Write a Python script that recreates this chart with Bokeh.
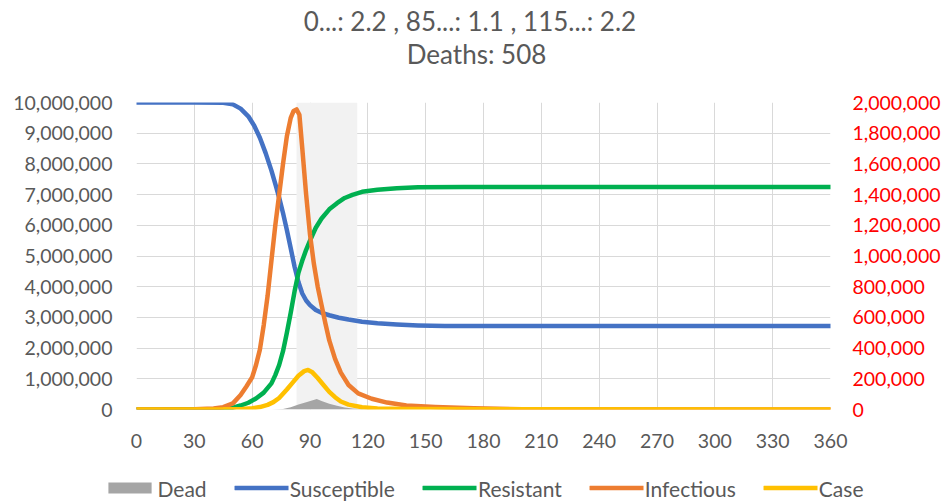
from bokeh.plotting import figure
from bokeh.layouts import column
from bokeh.core.properties import value
from bokeh.models import (Range1d, LinearAxis, FixedTicker, NumeralTickFormatter,
                          BoxAnnotation, Legend, LegendItem)
from bokeh.embed import file_html
from bokeh.resources import INLINE

# ---------------- data ----------------
title_line1 = "0...: 2.2 ,  85...: 1.1 ,  115...: 2.2"
title_line2 = "Deaths: 508"

x_ticks = [0, 30, 60, 90, 120, 150, 180, 210, 240, 270, 300, 330, 360]
left_ticks = [0, 1e6, 2e6, 3e6, 4e6, 5e6, 6e6, 7e6, 8e6, 9e6, 10e6]
right_ticks = [0, 2e5, 4e5, 6e5, 8e5, 1e6, 1.2e6, 1.4e6, 1.6e6, 1.8e6, 2e6]

shade_start, shade_end = 83, 114.5

series_names = ["Dead", "Susceptible", "Resistant", "Infectious", "Case"]

# Susceptible (left axis, millions)
days_s = [0, 30, 45, 50, 54, 58, 61, 64, 67, 70, 72, 74, 76, 78, 80, 82, 84, 86, 88, 90,
          93, 96, 100, 105, 110, 117, 125, 135, 146, 160, 190, 250, 360]
susceptible = [10.0, 10.0, 9.99, 9.94, 9.80, 9.55, 9.25, 8.85, 8.35, 7.78, 7.35, 6.90, 6.40,
               5.85, 5.25, 4.65, 4.15, 3.78, 3.55, 3.40, 3.24, 3.15, 3.07, 2.99, 2.93, 2.86,
               2.81, 2.77, 2.74, 2.72, 2.72, 2.72, 2.72]

# Resistant (left axis, millions)
days_r = [0, 45, 50, 54, 58, 62, 66, 70, 72, 74, 76, 78, 80, 82, 84, 86, 88, 90, 93, 96,
          100, 104, 108, 112, 117, 125, 135, 146, 170, 250, 360]
resistant = [0, 0.02, 0.06, 0.13, 0.22, 0.36, 0.55, 0.85, 1.12, 1.45, 1.9, 2.5, 3.15, 3.85,
             4.45, 4.85, 5.2, 5.5, 5.92, 6.22, 6.52, 6.72, 6.89, 6.99, 7.09, 7.16, 7.21,
             7.24, 7.25, 7.25, 7.25]

# Infectious (right axis, millions)
days_i = [0, 30, 40, 45, 50, 54, 57, 60, 62, 64, 66, 68, 70, 72, 74, 76, 78, 80, 81.5, 83,
          84.5, 86, 88, 90, 92, 94, 96, 98, 100, 103, 106, 110, 115, 122, 130, 140, 155,
          175, 200, 360]
infectious = [0, 0.001, 0.006, 0.015, 0.040, 0.095, 0.15, 0.21, 0.29, 0.39, 0.55, 0.74,
              0.97, 1.20, 1.40, 1.60, 1.78, 1.90, 1.945, 1.955, 1.92, 1.70, 1.40, 1.14,
              0.95, 0.80, 0.68, 0.56, 0.45, 0.33, 0.24, 0.16, 0.105, 0.07, 0.045, 0.026,
              0.016, 0.008, 0.002, 0]

# Case (right axis, millions)
days_c = [0, 45, 55, 60, 64, 68, 71, 74, 78, 81, 84, 87, 89, 91, 94, 97, 100, 103, 106,
          110, 117, 125, 140, 360]
case = [0, 0.001, 0.004, 0.008, 0.016, 0.03, 0.048, 0.075, 0.13, 0.175, 0.22, 0.25, 0.258,
        0.245, 0.205, 0.16, 0.115, 0.08, 0.052, 0.032, 0.015, 0.007, 0.003, 0]

# Dead (right axis, millions)
days_d = [0, 70, 76, 80, 84, 88, 91, 93.5, 96, 100, 104, 108, 112, 118, 125, 360]
dead = [0, 0, 0.003, 0.015, 0.033, 0.048, 0.058, 0.068, 0.056, 0.038, 0.024, 0.013, 0.006,
        0.002, 0, 0]

M = 1_000_000

# ---------------- styles ----------------
FONT = "Lato"
GREY_TXT = "#595959"
GRID = "#d9d9d9"
COLORS = {"Dead": "#A5A5A5", "Susceptible": "#4472C4", "Resistant": "#00B050",
          "Infectious": "#ED7D31", "Case": "#FFC000"}
LW = 4.5
line_kw = dict(line_width=LW, line_join="round", line_cap="round")

W = 945
H_TITLE, H_MAIN, H_LEG = 90, 384, 30
FRAME_L, FRAME_R = 136, 830
MAIN_TOP, MAIN_BOTTOM = 12, 65


def bare(fig):
    fig.outline_line_color = None
    fig.background_fill_color = "white"
    fig.border_fill_color = "white"


# ---------------- title strip ----------------
pt = figure(width=W, height=H_TITLE, output_backend="svg", toolbar_location=None,
            x_range=Range1d(0, 1), y_range=Range1d(0, H_TITLE),
            min_border_left=0, min_border_right=0, min_border_top=0, min_border_bottom=0)
pt.axis.visible = False
pt.grid.visible = False
bare(pt)
pt.text(x=[0.49, 0.49], y=[H_TITLE - 20, H_TITLE - 53], text=[title_line1, title_line2],
        text_align="center", text_baseline="middle", text_font=value(FONT),
        text_font_size="26px", text_color=GREY_TXT)

# ---------------- main chart ----------------
p = figure(width=W, height=H_MAIN, output_backend="svg", toolbar_location=None,
           x_range=Range1d(0, 360), y_range=Range1d(0, 10 * M),
           min_border_left=FRAME_L, min_border_right=W - FRAME_R, min_border_top=MAIN_TOP,
           min_border_bottom=MAIN_BOTTOM)
bare(p)
p.extra_y_ranges = {"right": Range1d(0, 2 * M)}

p.add_layout(BoxAnnotation(left=shade_start, right=shade_end, fill_color="#f2f2f2",
                           fill_alpha=1.0, line_color=None, level="underlay"))


def style_axis(ax, color, standoff):
    ax.axis_line_color = None
    ax.major_tick_line_color = None
    ax.minor_tick_line_color = None
    ax.major_tick_out = 0
    ax.major_tick_in = 0
    ax.major_label_standoff = standoff
    ax.major_label_text_font = FONT
    ax.major_label_text_font_size = "19.5px"
    ax.major_label_text_color = color


p.xaxis.ticker = FixedTicker(ticks=x_ticks)
style_axis(p.xaxis[0], GREY_TXT, 24)
p.yaxis.ticker = FixedTicker(ticks=left_ticks)
p.yaxis.formatter = NumeralTickFormatter(format="0,0")
style_axis(p.yaxis[0], GREY_TXT, 24)

right_axis = LinearAxis(y_range_name="right", ticker=FixedTicker(ticks=right_ticks),
                        formatter=NumeralTickFormatter(format="0,0"))
style_axis(right_axis, "#FF0000", 22)
p.add_layout(right_axis, "right")

p.xgrid.ticker = FixedTicker(ticks=x_ticks)
p.ygrid.ticker = FixedTicker(ticks=left_ticks)
p.grid.grid_line_color = GRID
p.grid.grid_line_width = 1

p.varea(x=days_d, y1=[0] * len(dead), y2=[v * M for v in dead],
        fill_color=COLORS["Dead"], y_range_name="right")
p.line(days_s, [v * M for v in susceptible], line_color=COLORS["Susceptible"], **line_kw)
p.line(days_r, [v * M for v in resistant], line_color=COLORS["Resistant"], **line_kw)
p.line(days_i, [v * M for v in infectious], line_color=COLORS["Infectious"],
       y_range_name="right", **line_kw)
p.line(days_c, [v * M for v in case], line_color=COLORS["Case"],
       y_range_name="right", **line_kw)

# ---------------- legend strip ----------------
pl = figure(width=W, height=H_LEG, output_backend="svg", toolbar_location=None,
            x_range=Range1d(0, 1), y_range=Range1d(0, 1),
            min_border_left=0, min_border_right=0, min_border_top=0, min_border_bottom=0)
pl.axis.visible = False
pl.grid.visible = False
bare(pl)

nan = float("nan")
items = []
for name in series_names:
    if name == "Dead":
        r = pl.varea(x=[nan], y1=[nan], y2=[nan], fill_color=COLORS[name])
    else:
        r = pl.line(x=[nan], y=[nan], line_color=COLORS[name], **line_kw)
    items.append(LegendItem(label=name, renderers=[r]))

legend = Legend(items=items, orientation="horizontal", location="center")
legend.label_text_font = FONT
legend.label_text_font_size = "21px"
legend.label_text_color = GREY_TXT
legend.glyph_width = 54
legend.glyph_height = 14
legend.label_standoff = 1
legend.spacing = 28
legend.padding = 0
legend.margin = 3
legend.border_line_color = None
legend.background_fill_alpha = 0
pl.add_layout(legend, "above")

open("out.html", "w").write(file_html(column(pt, p, pl, spacing=0), INLINE))
